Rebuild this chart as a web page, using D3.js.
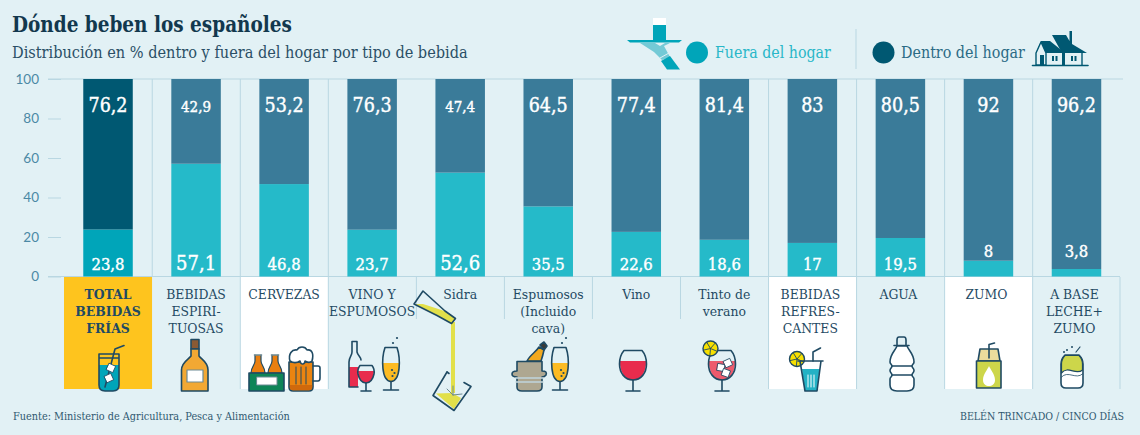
<!DOCTYPE html>
<html>
<head>
<meta charset="utf-8">
<script src="https://cdn.jsdelivr.net/npm/d3@7"></script>
<style>
  html, body { margin: 0; padding: 0; background: #e2f1f5; }
  svg { display: block; }
  text { font-family: "DejaVu Serif Condensed", "DejaVu Serif", serif; }
</style>
</head>
<body>
<svg id="chart" width="1140" height="435"></svg>
<script>
const categories = ["total", "espirituosas", "cervezas", "vinoEsp", "sidra", "espumosos", "vino", "tinto", "refrescos", "agua", "zumo", "leche"]
const categoryLines = [
    ["TOTAL", "BEBIDAS", "FRÍAS"],
    ["BEBIDAS", "ESPIRI-", "TUOSAS"],
    ["CERVEZAS"],
    ["VINO Y", "ESPUMOSOS"],
    ["Sidra"],
    ["Espumosos", "(Incluido", "cava)"],
    ["Vino"],
    ["Tinto de", "verano"],
    ["BEBIDAS", "REFRES-", "CANTES"],
    ["AGUA"],
    ["ZUMO"],
    ["A BASE", "LECHE+", "ZUMO"]
]
const fuera = [23.8, 57.1, 46.8, 23.7, 52.6, 35.5, 22.6, 18.6, 17, 19.5, 8, 3.8]
const dentro = [76.2, 42.9, 53.2, 76.3, 47.4, 64.5, 77.4, 81.4, 83, 80.5, 92, 96.2]
const yTicks = [0, 20, 40, 60, 80, 100]

const INK = "#1f4a63"
const BG = "#e2f1f5"
const RULE = "#b9d7e2"

const svg = d3.select("#chart")
const table = categories.map((c, i) => ({cat: c, fuera: fuera[i], dentro: dentro[i]}))
const x = d3.scaleBand().domain(categories).range([64, 1120.5])
const y = d3.scaleLinear().domain([0, 100]).range([276.5, 79])
const barW = 49.5
const barX = d => x(d) + x.bandwidth() / 2 - barW / 2
const fmt = v => String(v).replace(".", ",")

// fondos de las celdas
svg.append("rect").attr("x", x("total")).attr("y", y(0)).attr("width", x.bandwidth()).attr("height", 112.5).attr("fill", "#fec41e")
svg.selectAll(".cell")
    .data(["cervezas", "refrescos", "zumo"])
    .enter().append("rect")
    .attr("class", "cell")
    .attr("x", d => x(d))
    .attr("y", y(0))
    .attr("width", x.bandwidth())
    .attr("height", 112.5)
    .attr("fill", "#fff")

// separadores
const sepLine = (cats, y1, y2) => svg.selectAll(null)
    .data(cats)
    .enter().append("line")
    .attr("x1", d => x(d) + 0.2).attr("x2", d => x(d) + 0.2)
    .attr("y1", y1).attr("y2", y2)
    .attr("stroke", RULE).attr("stroke-width", 1)
sepLine(["espirituosas", "cervezas", "vinoEsp", "refrescos", "agua", "zumo", "leche"], 79, 276)
sepLine(["cervezas", "vinoEsp", "refrescos", "agua", "zumo", "leche"], 277, 389)
sepLine(["sidra", "espumosos", "vino", "tinto"], 277, 319)
svg.append("line").attr("x1", 1120).attr("x2", 1120).attr("y1", 277).attr("y2", 389).attr("stroke", RULE)

// eje
const axis = svg.append("g").attr("transform", "translate(61,0)")
    .call(d3.axisLeft(y).tickValues(yTicks).tickSize(13).tickPadding(9))
axis.select(".domain").remove()
axis.selectAll("line").attr("stroke", RULE)
axis.selectAll("text").attr("fill", "#4b89a5").style("font-family", "Lato").style("font-size", "13.5px")
svg.append("line").attr("x1", 48).attr("x2", 1123).attr("y1", y(100)).attr("y2", y(100)).attr("stroke", RULE).attr("stroke-width", 1.2)
svg.append("line").attr("x1", 48).attr("x2", 1120).attr("y1", y(0)).attr("y2", y(0)).attr("stroke", RULE).attr("stroke-width", 1.2)

// barras apiladas
const stack = d3.stack().keys(["fuera", "dentro"])(table)
const barColor = (key, cat) => {
    if(cat == "total") return key == "fuera" ? "#00a5b9" : "#005872"
    return key == "fuera" ? "#25bac9" : "#3a7b99"
}
svg.selectAll(".serie")
    .data(stack)
    .enter().append("g")
    .attr("class", "serie")
    .each(function(s) {
        d3.select(this).selectAll("rect")
            .data(s)
            .enter().append("rect")
            .attr("x", d => barX(d.data.cat))
            .attr("y", d => y(d[1]))
            .attr("width", barW)
            .attr("height", d => y(d[0]) - y(d[1]))
            .attr("fill", d => barColor(s.key, d.data.cat))
    })

// etiquetas de valor
const smallDentro = ["espirituosas", "sidra"]
const bigFuera = ["espirituosas", "sidra"]
svg.selectAll(".valDentro")
    .data(table)
    .enter().append("text")
    .attr("class", "valDentro")
    .attr("x", d => x(d.cat) + x.bandwidth() / 2)
    .attr("y", 112)
    .attr("text-anchor", "middle")
    .attr("fill", "#fff")
    .attr("stroke", "#fff")
    .attr("stroke-width", 0.4)
    .style("font-size", d => smallDentro.includes(d.cat) ? "15px" : "19.5px")
    .text(d => fmt(d.dentro))
svg.selectAll(".valFuera")
    .data(table)
    .enter().append("text")
    .attr("class", "valFuera")
    .attr("x", d => x(d.cat) + x.bandwidth() / 2)
    .attr("y", d => d.fuera < 10 ? 257 : 269.5)
    .attr("text-anchor", "middle")
    .attr("fill", "#fff")
    .attr("stroke", "#fff")
    .attr("stroke-width", 0.4)
    .style("font-size", d => bigFuera.includes(d.cat) ? "20px" : "16.5px")
    .text(d => fmt(d.fuera))

// nombres de categoria
svg.selectAll(".catLabel")
    .data(categories)
    .enter().append("text")
    .attr("class", "catLabel")
    .attr("text-anchor", "middle")
    .attr("fill", INK)
    .style("font-size", "13.8px")
    .style("font-weight", d => d == "total" ? "bold" : "normal")
    .each(function(d, i) {
        const cx = x(d) + x.bandwidth() / 2 - (i >= 8 ? 2 : 0)
        d3.select(this).selectAll("tspan")
            .data(categoryLines[i])
            .enter().append("tspan")
            .attr("x", cx)
            .attr("y", (l, j) => 298.5 + j * 17.3)
            .text(l => l)
    })

// titulos
svg.append("text").attr("x", 12).attr("y", 32).attr("fill", "#12384e").style("font-size", "21.5px").style("font-weight", "bold")
    .attr("textLength", 280).attr("lengthAdjust", "spacingAndGlyphs").text("Dónde beben los españoles")
svg.append("text").attr("x", 12).attr("y", 58).attr("fill", "#2a4f66").style("font-size", "16.15px").text("Distribución en % dentro y fuera del hogar por tipo de bebida")
svg.append("text").attr("x", 13).attr("y", 420).attr("fill", "#2f5870").style("font-size", "10.8px").text("Fuente: Ministerio de Agricultura, Pesca y Alimentación")
svg.append("text").attr("x", 1124).attr("y", 420).attr("text-anchor", "end").attr("fill", "#2f5870").style("font-size", "10.5px").text("BELÉN TRINCADO / CINCO DÍAS")

// leyenda
svg.append("circle").attr("cx", 697).attr("cy", 52.5).attr("r", 11).attr("fill", "#00a5b9")
svg.append("text").attr("x", 715).attr("y", 58).attr("fill", "#29b7c8").style("font-size", "15.8px").text("Fuera del hogar")
svg.append("line").attr("x1", 856).attr("x2", 856).attr("y1", 29).attr("y2", 69).attr("stroke", RULE)
svg.append("circle").attr("cx", 883.5).attr("cy", 52.5).attr("r", 11).attr("fill", "#005872")
svg.append("text").attr("x", 901).attr("y", 58).attr("fill", "#2b6b85").style("font-size", "15.9px").text("Dentro del hogar")

// iconos
const icons = svg.append("g").attr("stroke-linejoin", "round").attr("stroke-linecap", "round")
const shape = (d, fill, stroke = INK, w = 1.6, parent = icons) => parent.append("path")
    .attr("d", d).attr("fill", fill).attr("stroke", stroke).attr("stroke-width", w)
const ice = (cx, cy, s, a) => icons.append("rect")
    .attr("x", -s / 2).attr("y", -s / 2).attr("width", s).attr("height", s)
    .attr("transform", `translate(${cx},${cy}) rotate(${a})`)
    .attr("fill", "#fff").attr("stroke", INK).attr("stroke-width", 0.8)
const dot = (cx, cy, r = 1.1, c = INK) => icons.append("circle").attr("cx", cx).attr("cy", cy).attr("r", r).attr("fill", c)

const lemon = (cx, cy, r) => {
    icons.append("circle").attr("cx", cx).attr("cy", cy).attr("r", r).attr("fill", "#f7e000").attr("stroke", INK).attr("stroke-width", 1.4)
    d3.range(5).forEach(k => {
        const a = k * Math.PI / 2.5 + 0.4
        icons.append("line").attr("x1", cx).attr("y1", cy)
            .attr("x2", cx + Math.cos(a) * r).attr("y2", cy + Math.sin(a) * r)
            .attr("stroke", INK).attr("stroke-width", 0.9)
    })
}

const stemGlass = (cx, color, level) => {
    // copa de vino, centrada en cx
    shape(`M${cx - 13},${level} C${cx - 13.5},372 ${cx - 8},380 ${cx},380 C${cx + 8},380 ${cx + 13.5},372 ${cx + 13},${level} Z`, color, "none", 0)
    shape(`M${cx - 9},350.5 H${cx + 9} C${cx + 12},354 ${cx + 13.5},360 ${cx + 13.5},364 C${cx + 13.5},373 ${cx + 8},380 ${cx},380 C${cx - 8},380 ${cx - 13.5},373 ${cx - 13.5},364 C${cx - 13.5},360 ${cx - 12},354 ${cx - 9},350.5 Z`, "none")
    shape(`M${cx},380 V391 M${cx - 7},391 H${cx + 7}`, "none")
}
const flute = (cx) => {
    shape(`M${cx - 8.5},363 H${cx + 8.5} C${cx + 9},373 ${cx + 6},381 ${cx},381.5 C${cx - 6},381 ${cx - 9},373 ${cx - 8.5},363 Z`, "#fdbb22", "none", 0)
    shape(`M${cx - 6},347.5 H${cx + 6} C${cx + 9.5},358 ${cx + 10},381 ${cx},381.5 C${cx - 10},381 ${cx - 9.5},358 ${cx - 6},347.5 Z`, "none")
    shape(`M${cx},381.5 V390 M${cx - 7.5},390 H${cx + 7.5}`, "none")
    dot(cx + 1, 370); dot(cx + 3.5, 373); dot(cx + 1.5, 376)
    dot(cx + 2, 343); dot(cx + 6, 338)
}

// vaso con hielo (total)
shape("M99,365 H119 V385 Q119,391 113,391 H105 Q99,391 99,385 Z", "#00a5b9", "none", 0)
shape("M99,354 H119 V385 Q119,391 113,391 H105 Q99,391 99,385 Z M99,358 H119", "none")
shape("M105,387 L115,349 L124,345.5", "none")
ice(111, 368, 7, 25); ice(109, 378, 7, -25)

// licor
shape("M191,339.5 H199 V349 H191 Z", "#8a5a34")
shape("M191,349 H199 V356 C202,360 208,362 208,370 V391 H181.5 V370 C181.5,362 188,360 191,356 Z", "#f2a833")
shape("M187,370 H203 V382 H187 Z", "#fff", "#6d8a94", 1.2)

// botellas y jarra
;[258, 275].forEach(c => {
    shape(`M${c - 3},355 V361 C${c - 3},365 ${c - 7},367 ${c - 7},373 H${c + 7} C${c + 7},367 ${c + 3},365 ${c + 3},361 V355`, "#ea7f10", INK, 1.2)
    shape(`M${c - 3.5},355 H${c + 3.5}`, "none", "#6d8a94", 1.6)
})
shape("M249,373 H284 V391 H249 Z", "#0e8557")
shape("M257,377 H277 V385 H257 Z", "#fff", "#6d8a94", 1)
shape("M289,362 H313 V387 Q313,391 309,391 H293 Q289,391 289,387 Z", "#ea8410")
shape("M289.8,385 H312.2 V387 Q312.2,390.2 309,390.2 H293 Q289.8,390.2 289.8,387 Z", "#d0690c", "none", 0)
shape("M296,367 V384 M301,367 V384 M306,367 V384", "none", INK, 1)
shape("M313,366 H318 Q320,366 320,368 V378 Q320,381 318,381 H313", "none")
shape("M290,361 C288,354 292,349 297,350 C299,346 305,346 307,350 C312,349 314,354 312,361 C309,364 307,362 305,361 C305,364 301,366 300,361 C297,363 293,363 290,361 Z", "#fff")

// vino y espumosos
shape("M349,367 H358 V387 H349 Z", "#e82c4d", "none", 0)
shape("M352,341.5 H357 V352 C358,356 361,357 361,360 M349,387 V362 C349,357 352,356 352,352 V341.5 M349,387 H358", "none")
shape("M358,371 H374 C374,378 371,383 366,383 C361,383 358,378 358,371 Z", "#e82c4d", "none", 0)
shape("M360,365.5 H372 C374,368 374.5,371 374,374 C373,379 370,383 366,383 C362,383 359,379 358,374 C357.5,371 358,368 360,365.5 Z", "none")
shape("M366,383 V391 M361,391 H371", "none")
flute(391)

// sidra
shape("M415,304 L437,315.5 L451.5,323.5 L455,318.5 L446,311.5 L423,304 Z", "#e2e04a", "none", 0)
shape("M451,322 H455 V393 H451 Z", "#e2e04a", "none", 0)
shape("M436,393.5 L454,409 L461,398 L452,393 Z", "#e2e04a", "none", 0)
shape("M423,291 L414,304 L437,315.5 L451.5,323.5 L455.5,318.5 L445,311 Z", "none")
shape("M447,372 L433,395.5 L454,410.5 L471,386.5 L464,382.5", "none")
shape("M447,372 L449,373.5", "none")
shape("M453,395 L447,389 M453,395 L453,386 M453,395 L462,394", "none", "#6d8a94", 1)

// espumosos
shape("M527,361 C530,355 536,352 539,347 L544,350 C543,355 542,358 541,361 Z", "#f2a91f")
shape("M540,345 L544,342 L547,346 L544,350 Z", "#3b3a36")
shape("M517,361.5 H542 V371 C546,371 547,372.5 546,375 C545,376.5 543,377 542,377 V387 Q542,391 537,391 H522 Q517,391 517,387 V377 C514,377 512,376 512,374 C512,372 514,371 517,371 Z", "#aea791")
shape("M516,378 H543 M516,382 H543", "none", "#e2f1f5", 1.6)
shape("M516,378 H543 M516,382 H543", "none", "#6d8a94", 0.5)
flute(560)

stemGlass(633, "#e82c4d", 361)

// tinto de verano
stemGlass(722, "#ed5a6c", 361)
ice(721, 367.5, 7, 10); ice(728, 363, 7, -25); ice(726, 373, 7, 20)
lemon(710.5, 348.5, 7.5)

// refrescos
lemon(797, 359, 7.5)
shape("M802,369 H819.5 L817,391 H805 Z", "#23b2c5", "none", 0)
shape("M798,361 H823 M800,361 L805,391 H817 L821,361", "none")
shape("M808,375 V387 M811,375 V387 M814,375 V387", "none", "#fff", 1)
shape("M813,361 V352 L820.5,348", "none")

// agua
shape("M897,345 V340 Q897,337 899,337 H904 Q906,337 906,340 V345 M894,345.5 H909", "none")
shape("M897,346 C895,351 890,354 890,362 C890,364 892,364.5 892,366 C892,368 890,368 890,370.5 C890,373 892,373 892,375 C892,377 890,377 890,379 V385 Q890,391 897,391 H907 Q914,391 914,385 V379 C914,377 912,377 912,375 C912,373 914,373 914,370.5 C914,368 912,368 912,366 C912,364.5 914,364 914,362 C914,354 909,351 907,346 Z", "#fff")
shape("M892,366 H912 M892,375 H912", "none", INK, 1.4)

// zumo
shape("M978,361 L980,349 H998 L1000,361 Z", "#eadc9c")
shape("M976.5,361 H1001 V388 H976.5 Z", "#cdd64a")
shape("M989,366 C990,369 995,374 995,380 C995,384 992,386 989,386 C986,386 983,384 983,380 C983,374 988,369 989,366 Z", "#fff", "none", 0)
shape("M989,358 V344.5 L994.5,343", "none")

// lata
shape("M1065,355 H1079 Q1083,359 1083,364 V383 Q1083,388 1078,388 H1066 Q1061,388 1061,383 V364 Q1061,359 1065,355 Z", "#fff")
shape("M1065,355.5 H1079 Q1082.5,359 1082.5,364 V370 C1076,376 1068,365 1061.5,373 V364 Q1061.5,359 1065,355.5 Z", "#cdd64a", INK, 1.2)
shape("M1061.5,377 C1068,370 1076,380 1082.5,374", "none", INK, 0.8)
dot(1072, 347, 1); dot(1067, 350, 1); dot(1064, 352, 1)
shape("M1076,352 L1080,347", "none", INK, 1.2)

// bandeja (leyenda)
const teal = "#00a5b9"
shape("M653,18 H666 V25 H653 Z", "#fff", "none", 0)
shape("M653,25 H666 V40 H653 Z", teal, "none", 0)
shape("M627,40 H682 L679,42.5 H630 Z", teal, "none", 0)
shape("M640,43 H655 L660,46 L665,43 H670 L664,46 L670,57 L662,60 L654,52 Z", "#74cad6", "none", 0)
shape("M661,61 L670,56 L680,69.5 H667 Z", teal, "none", 0)
shape("M660,58 L669,53", "none", BG, 1)

// casa (leyenda)
const house = "#005872"
shape("M1032.5,65.5 H1088", "none", house, 1.6)
shape("M1052,35 H1066 L1069.5,41 V31 H1072 V44 L1087,53 H1067 L1062,53 Z", house, "none", 0)
shape("M1041,41 H1050 L1065,53 H1041 L1036,53 Z", house, "none", 0)
shape("M1036,53 L1041,42 L1046,53 V65 H1036 Z", BG, house, 1.4)
shape("M1040,55 H1044 V65 H1040 Z", house, "none", 0)
shape("M1062,53 H1065 V65 H1062 Z", house, "none", 0)
shape("M1052,56 H1054 V61 H1052 Z M1055.5,56 H1057.5 V61 H1055.5 Z M1071,56 H1073 V61 H1071 Z M1074.5,56 H1076.5 V61 H1074.5 Z", house, "none", 0)
shape("M1082,53 V65", "none", house, 1.4)
</script>
</body>
</html>
